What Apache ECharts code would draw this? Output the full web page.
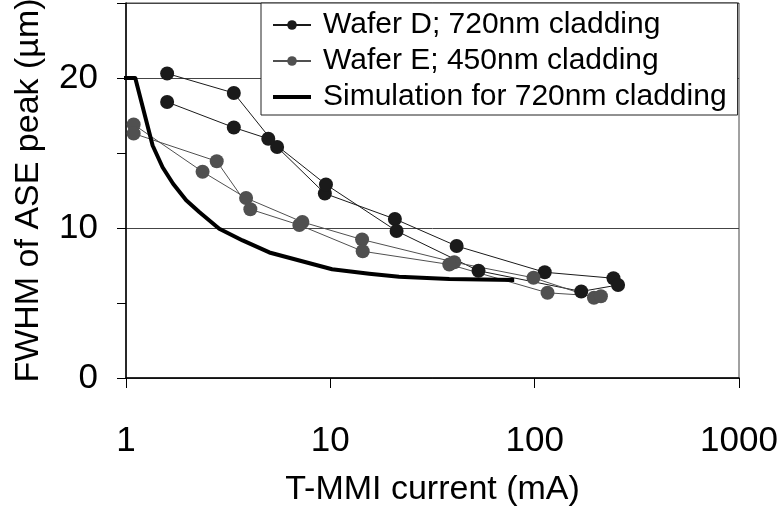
<!DOCTYPE html>
<html>
<head>
<meta charset="utf-8">
<script src="https://cdn.jsdelivr.net/npm/echarts@6/dist/echarts.min.js"></script>
<style>
  html, body { margin: 0; padding: 0; background: #fff; }
  #chart { width: 780px; height: 508px; }
</style>
</head>
<body>
<div id="chart"></div>
<script>
// FWHM of the ASE peak versus T-MMI current, two wafers (two sweeps each) plus simulation.
const seriesNames = ['Wafer D; 720nm cladding', 'Wafer E; 450nm cladding', 'Simulation for 720nm cladding'];

// Wafer D, first sweep: current (mA) and FWHM (µm)
const waferD1Current = [1.59, 3.37, 5.49, 9.4, 20.7, 41.5, 112, 243];
const waferD1Fwhm    = [20.3, 19.0, 15.4, 12.3, 10.6, 8.8, 7.05, 6.65];
// Wafer D, second sweep
const waferD2Current = [1.59, 3.37, 4.97, 9.52, 21.1, 53.1, 169, 256];
const waferD2Fwhm    = [18.4, 16.7, 15.95, 12.9, 9.8, 7.15, 5.77, 6.2];

// Wafer E, first sweep
const waferE1Current = [1.09, 2.37, 3.87, 7.3, 14.3, 40.4, 98.7, 195];
const waferE1Fwhm    = [16.9, 13.75, 12.0, 10.4, 9.23, 7.72, 6.68, 5.35];
// Wafer E, second sweep
const waferE2Current = [1.09, 2.78, 4.06, 7.05, 14.4, 38.2, 115.6, 211];
const waferE2Fwhm    = [16.3, 14.45, 11.25, 10.2, 8.45, 7.57, 5.68, 5.45];

// Simulated curve for the 720nm cladding
const simCurrent = [0.93, 1.11, 1.35, 1.51, 1.7, 1.97, 2.29, 2.86, 3.72, 5.03, 7.05, 10.2, 15.5, 21.7, 38.2, 79.4];
const simFwhm    = [20, 20, 15.5, 14.05, 12.95, 11.85, 11.05, 9.95, 9.17, 8.37, 7.83, 7.25, 6.95, 6.75, 6.6, 6.53];

// Axis ticks
const xTicks = [1, 10, 100, 1000];
const yLabelled = [0, 10, 20];

const pairs = (xs, ys) => xs.map((x, i) => [x, ys[i]]);

const FONT = 'Liberation Sans, Arial, sans-serif';
const colD = '#1a1a1a';
const colE = '#505050';

function waferSeries(name, color, xs, ys) {
  return {
    name: name,
    type: 'line',
    xAxisIndex: 0,
    yAxisIndex: 0,
    data: pairs(xs, ys),
    symbol: 'circle',
    symbolSize: 14,
    showSymbol: true,
    itemStyle: { color: color },
    lineStyle: { color: color, width: 1 },
    emphasis: { disabled: true }
  };
}

const chart = echarts.init(document.getElementById('chart'), null, { renderer: 'canvas' });

chart.setOption({
  animation: false,
  backgroundColor: '#ffffff',
  textStyle: { fontFamily: FONT, color: '#000' },
  grid: {
    left: 126, top: 3, width: 613, height: 375,
    outerBoundsMode: 'none',
    containLabel: false,
    show: true, borderColor: '#444', borderWidth: 1, backgroundColor: 'transparent'
  },
  legend: {
    data: [
      { name: seriesNames[0] },
      { name: seriesNames[1] },
      { name: seriesNames[2], icon: 'path://M0 0H40V4H0Z' }
    ],
    orient: 'vertical',
    left: 261,
    top: 3,
    padding: [6, 11, 2, 11],
    itemWidth: 38,
    itemHeight: 12,
    itemGap: 4,
    backgroundColor: '#ffffff',
    borderColor: '#222',
    borderWidth: 1,
    borderRadius: 0,
    textStyle: { fontFamily: FONT, fontSize: 30, color: '#000', lineHeight: 32, padding: [0, 0, 0, 7] }
  },
  xAxis: {
    type: 'log',
    logBase: 10,
    min: 1,
    max: 1000,
    name: 'T-MMI current (mA)',
    nameLocation: 'middle',
    nameGap: 95,
    nameTextStyle: { fontFamily: FONT, fontSize: 34, color: '#000' },
    axisLine: { show: true, onZero: false, lineStyle: { color: '#000', width: 1.5 } },
    axisTick: { show: true, inside: false, length: 10, lineStyle: { color: '#000', width: 1 } },
    minorTick: { show: false },
    axisLabel: {
      fontFamily: FONT, fontSize: 35, color: '#000', margin: 46,
      formatter: v => (xTicks.indexOf(Math.round(v)) >= 0 ? String(Math.round(v)) : '')
    },
    splitLine: { show: false }
  },
  yAxis: [
    {
      type: 'value',
      min: 0,
      max: 25,
      interval: 5,
      name: 'FWHM of ASE peak (\u00b5m)',
      nameLocation: 'middle',
      nameRotate: 90,
      nameGap: 80,
      nameTextStyle: { fontFamily: FONT, fontSize: 34, color: '#000' },
      axisLine: { show: true, onZero: false, lineStyle: { color: '#000', width: 1.5 } },
      axisTick: { show: true, inside: false, length: 9, lineStyle: { color: '#000', width: 1 } },
      axisLabel: {
        fontFamily: FONT, fontSize: 35, color: '#000', margin: 28,
        formatter: v => (yLabelled.indexOf(v) >= 0 ? String(v) : '')
      },
      splitLine: { show: false }
    },
    {
      // gridlines at the labelled values only
      type: 'value',
      min: 0,
      max: 25,
      interval: 10,
      position: 'left',
      axisLine: { show: false },
      axisTick: { show: false },
      axisLabel: { show: false },
      splitLine: { show: true, lineStyle: { color: '#444', width: 1 } }
    }
  ],
  series: [
    waferSeries(seriesNames[0], colD, waferD1Current, waferD1Fwhm),
    waferSeries(seriesNames[0], colD, waferD2Current, waferD2Fwhm),
    waferSeries(seriesNames[1], colE, waferE1Current, waferE1Fwhm),
    waferSeries(seriesNames[1], colE, waferE2Current, waferE2Fwhm),
    {
      name: seriesNames[2],
      type: 'line',
      data: pairs(simCurrent, simFwhm),
      showSymbol: false,
      symbol: 'none',
      clip: false,
      itemStyle: { color: '#000' },
      lineStyle: { color: '#000', width: 4, cap: 'butt', join: 'round' },
      emphasis: { disabled: true }
    }
  ]
});
</script>
</body>
</html>
